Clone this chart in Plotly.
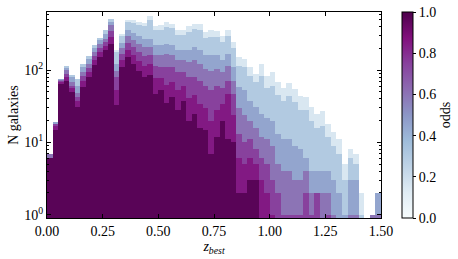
import plotly.graph_objects as go
from plotly.colors import sample_colorscale

# z_best bins (width 0.025, from 0 to 1.5)
bin_width = 0.025
z_left = [round(i * bin_width, 4) for i in range(60)]

# odds class of each stacked layer (bottom -> top)
odds_levels = [0.97, 0.85, 0.75, 0.60, 0.45, 0.30, 0.15]

# galaxy counts per z bin for each odds class
n_odds_097 = [6, 15, 64, 72, 50, 31, 58, 81, 117, 153, 188, 234, 33, 111, 153, 123, 99, 81, 87, 47,
              53, 35, 43, 28, 38, 20, 25, 16, 15, 7, 12, 20, 11, 10, 2, 2, 3, 3, 0, 0,
              0, 0, 0, 0, 0, 0, 0, 0, 0, 0, 0, 0, 0, 0, 0, 0, 0, 0, 0, 0]
n_odds_085 = [0, 2, 5, 9, 6, 6, 12, 12, 20, 24, 26, 53, 20, 26, 35, 37, 34, 32, 34, 31,
              25, 28, 25, 25, 22, 21, 20, 18, 15, 13, 16, 14, 36, 14, 4, 3, 3, 2, 3, 2,
              1, 0, 0, 0, 0, 0, 0, 0, 0, 0, 0, 0, 0, 0, 0, 0, 0, 0, 0, 0]
n_odds_075 = [0, 1, 3, 9, 5, 5, 12, 13, 18, 24, 30, 58, 28, 29, 49, 47, 44, 42, 39, 38,
              34, 49, 41, 41, 34, 40, 36, 38, 30, 33, 33, 23, 25, 23, 7, 5, 5, 3, 3, 3,
              2, 2, 1, 1, 1, 1, 2, 1, 2, 0, 1, 0, 0, 0, 0, 0, 0, 0, 0, 0]
n_odds_060 = [1, 0, 2, 10, 8, 6, 13, 17, 23, 33, 30, 74, 18, 35, 58, 52, 57, 55, 47, 44,
              48, 57, 51, 43, 43, 48, 56, 51, 44, 46, 43, 37, 44, 25, 17, 14, 9, 8, 6, 6,
              6, 3, 3, 3, 2, 2, 2, 1, 0, 2, 1, 1, 0, 0, 1, 1, 0, 0, 1, 1]
n_odds_045 = [0, 1, 1, 9, 11, 13, 14, 19, 23, 25, 40, 48, 24, 36, 62, 65, 61, 64, 67, 61,
              61, 65, 61, 51, 51, 59, 70, 65, 56, 61, 56, 43, 53, 39, 29, 29, 18, 15, 13, 11,
              11, 8, 7, 7, 6, 5, 2, 2, 2, 2, 2, 2, 2, 1, 2, 2, 0, 0, 0, 1]
n_odds_030 = [0, 0, 0, 7, 7, 14, 12, 14, 20, 24, 43, 52, 54, 58, 106, 124, 124, 132, 218, 136,
              136, 158, 161, 116, 116, 147, 161, 169, 118, 126, 126, 109, 126, 90, 57, 59, 46, 37, 59, 34,
              41, 32, 27, 33, 27, 20, 22, 16, 12, 13, 8, 6, 5, 2, 3, 2, 1, 0, 0, 0]
n_odds_015 = [0, 0, 0, 0, 0, 0, 0, 0, 0, 0, 0, 0, 16, 20, 40, 44, 47, 45, 66, 49,
              62, 74, 60, 53, 62, 71, 74, 80, 61, 71, 64, 49, 62, 45, 37, 33, 25, 22, 37, 27,
              32, 24, 18, 23, 19, 16, 15, 11, 9, 10, 6, 5, 4, 2, 2, 2, 1, 0, 0, 0]

layers = [n_odds_097, n_odds_085, n_odds_075, n_odds_060, n_odds_045, n_odds_030, n_odds_015]
colors = sample_colorscale("BuPu", odds_levels)

x_centers = [z + bin_width / 2 for z in z_left]

fig = go.Figure()
for counts, col in zip(layers, colors):
    fig.add_trace(go.Bar(
        x=x_centers, y=counts, width=bin_width,
        marker=dict(color=col, line=dict(width=0)),
        hoverinfo="skip", showlegend=False,
    ))

# colorbar for odds
fig.add_trace(go.Scatter(
    x=[None], y=[None], mode="markers", showlegend=False, hoverinfo="skip",
    marker=dict(
        color=[0], cmin=0, cmax=1, colorscale="BuPu", showscale=True,
        colorbar=dict(
            x=1.063, xanchor="left", xpad=0, y=0.5, yanchor="middle", ypad=0,
            len=1, lenmode="fraction", thickness=11,
            outlinewidth=1, outlinecolor="black",
            tickvals=[0, 0.2, 0.4, 0.6, 0.8, 1.0],
            ticktext=["0.0", "0.2", "0.4", "0.6", "0.8", "1.0"],
            ticks="outside", ticklen=3, tickcolor="black",
            tickfont=dict(family="Liberation Serif", size=14, color="black"),
            title=dict(text="odds", side="right",
                       font=dict(family="Liberation Serif", size=14, color="black")),
        ),
    ),
))

x_ticks = [0, 0.25, 0.5, 0.75, 1.0, 1.25, 1.5]
y_minor = [2, 3, 4, 5, 6, 7, 8, 9, 20, 30, 40, 50, 60, 70, 80, 90, 200, 300, 400, 500, 600]

fig.update_layout(
    width=458, height=259,
    margin=dict(l=47, r=77, t=12, b=41, autoexpand=False),
    barmode="stack", bargap=0,
    plot_bgcolor="white", paper_bgcolor="white",
    font=dict(family="Liberation Serif", size=14, color="black"),
    xaxis=dict(
        range=[0, 1.5], tickvals=x_ticks, ticktext=[f"{v:.2f}" for v in x_ticks],
        ticks="inside", ticklen=4, tickcolor="black", mirror="allticks",
        showline=True, linecolor="black", linewidth=1, showgrid=False, zeroline=False,
        automargin=False,
        title=dict(text="<i>z</i><sub><i>best</i></sub>", standoff=2,
                   font=dict(family="Liberation Serif", size=14)),
    ),
    yaxis=dict(
        type="log", range=[-0.047, 2.806],
        tickvals=[1, 10, 100], ticktext=["10<sup>0</sup>", "10<sup>1</sup>", "10<sup>2</sup>"],
        ticks="inside", ticklen=4, tickcolor="black", mirror="allticks",
        showline=True, linecolor="black", linewidth=1, showgrid=False, zeroline=False,
        automargin=False,
        minor=dict(tickmode="array", tickvals=y_minor, ticks="inside", ticklen=2,
                   tickcolor="black", showgrid=False),
        title=dict(text="N galaxies", standoff=2,
                   font=dict(family="Liberation Serif", size=14)),
    ),
)

# remove the default page margin so the figure sits at the window's corner
fig.write_html("out.html", config={"displayModeBar": False},
               post_script="document.body.style.margin='0px';")
